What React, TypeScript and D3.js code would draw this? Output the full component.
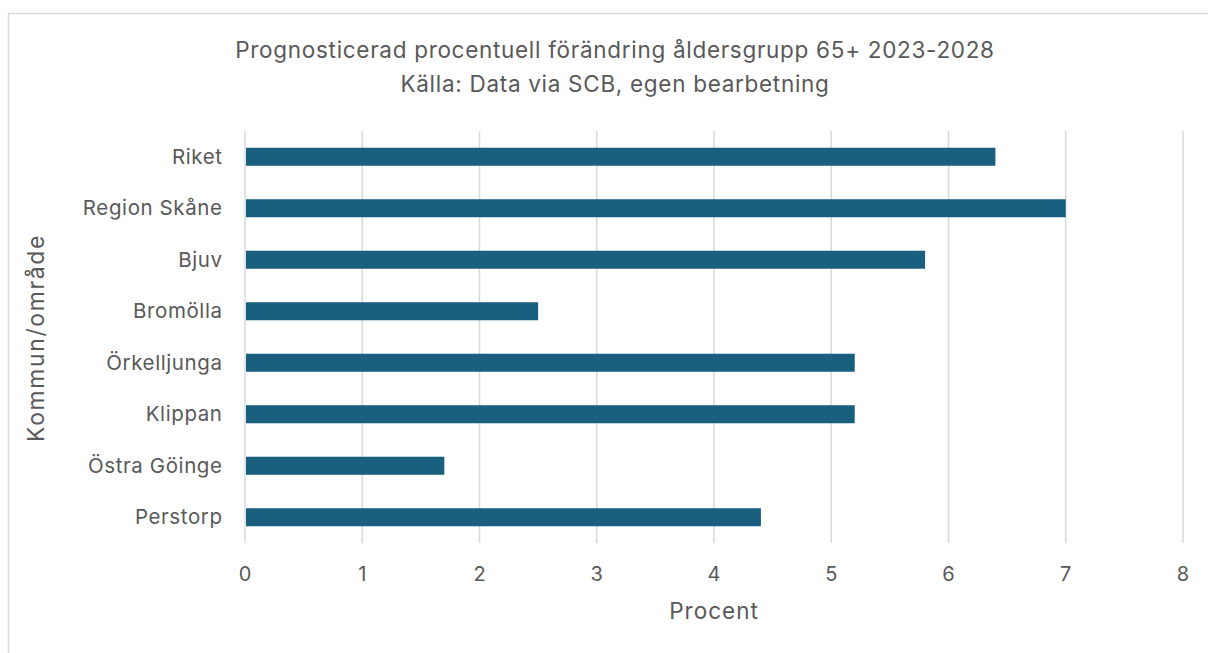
import React from "react";
import * as d3 from "d3";

const categories = ["Riket", "Region Skåne", "Bjuv", "Bromölla", "Örkelljunga", "Klippan", "Östra Göinge", "Perstorp"];
const values = [6.4, 7.0, 5.8, 2.5, 5.2, 5.2, 1.7, 4.4];
const xTicks = [0, 1, 2, 3, 4, 5, 6, 7, 8];
const titleLines = ["Prognosticerad procentuell förändring åldersgrupp 65+ 2023-2028", "Källa: Data via SCB, egen bearbetning"];
const xTitle = "Procent";
const yTitle = "Kommun/område";

export default function App() {
  const W = 1208, H = 653;
  const left = 245, right = 1183, top = 131, bottom = 543;
  const x = d3.scaleLinear().domain([0, 8]).range([left, right]);
  const y = d3.scaleBand().domain(categories).range([top, bottom]).paddingInner(0.65).paddingOuter(0.325);
  const font = "Inter, sans-serif";
  const txt = "#595959";
  return (
    <svg width={W} height={H} style={{ position: "absolute", left: 0, top: 0, background: "#fff" }} fontFamily={font}>
      <rect x={8.5} y={13.5} width={W + 10} height={H + 10} fill="#fff" stroke="#d9d9d9" strokeWidth={1.5} />
      {titleLines.map((t, i) => (
        <text key={i} x={615} y={58 + i * 34} textAnchor="middle" fontSize={22.5} letterSpacing={0.7} fill={txt}>{t}</text>
      ))}
      {xTicks.map((t) => (
        <g key={t}>
          <line x1={x(t)} x2={x(t)} y1={top} y2={bottom} stroke="#d9d9d9" strokeWidth={1.5} />
          <text x={x(t)} y={581} textAnchor="middle" fontSize={20} fill={txt}>{t}</text>
        </g>
      ))}
      {categories.map((c, i) => (
        <g key={c}>
          <rect x={x(0) + 1} y={y(c)!} width={x(values[i]) - x(0) - 1} height={y.bandwidth()} fill="#185f80" />
          <text x={222.6} y={y(c)! + y.bandwidth() / 2 + 7} textAnchor="end" fontSize={20.5} letterSpacing={0.6} fill={txt}>{c}</text>
        </g>
      ))}
      <text x={714} y={619} textAnchor="middle" fontSize={22.5} letterSpacing={1} fill={txt}>{xTitle}</text>
      <text transform={`translate(44,338) rotate(-90)`} textAnchor="middle" fontSize={23} letterSpacing={1.6} fill={txt}>{yTitle}</text>
    </svg>
  );
}
